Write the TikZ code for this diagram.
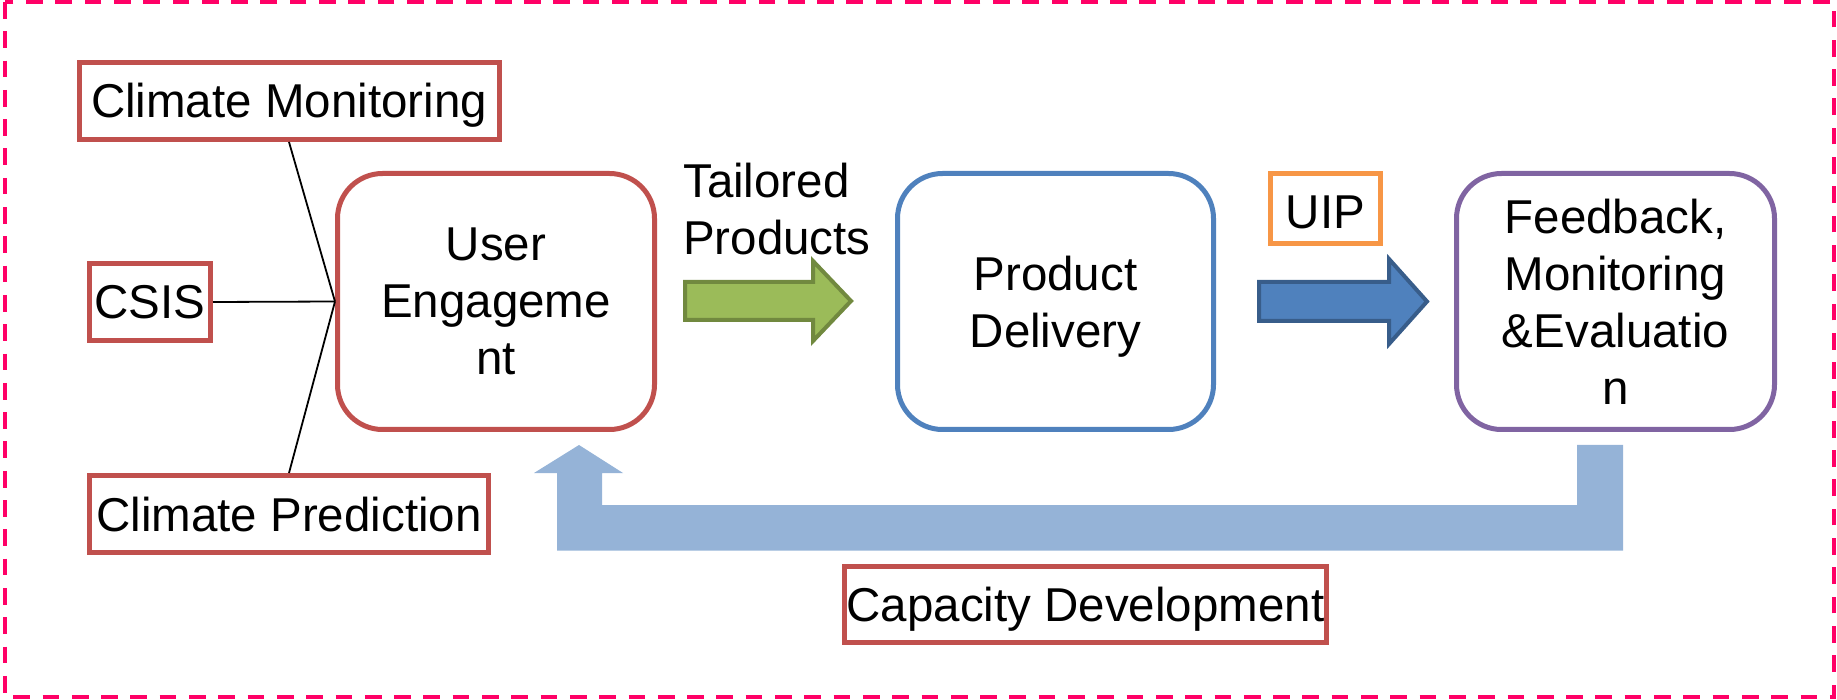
\documentclass[tikz,border=0pt]{standalone}
\usepackage{fontspec}
\setmainfont{Liberation Sans}
\definecolor{cred}{HTML}{C0504D}
\definecolor{cblue}{HTML}{4F81BD}
\definecolor{cpurple}{HTML}{8064A2}
\definecolor{corange}{HTML}{F79646}
\definecolor{cgreen}{HTML}{9BBB59}
\definecolor{cgreenD}{HTML}{71893F}
\definecolor{cblueD}{HTML}{385D8A}
\definecolor{clight}{HTML}{95B3D7}
\definecolor{cpink}{HTML}{FF0066}
\newcommand{\bigfont}{\fontsize{47.5}{57}\selectfont}
\begin{document}
\begin{tikzpicture}[x=1pt,y=-1pt,
  lbl/.style={draw=cred, line width=5pt, fill=white, inner sep=0pt,
    font=\bigfont, text height=34pt, text depth=0pt},
  stage/.style={rounded corners=45pt, line width=5pt, fill=white,
    align=center, inner sep=0pt, font=\bigfont,
    minimum height=256pt},
  link/.style={black, line width=1.8pt},
  blockarrow/.style={line width=4pt, miter limit=10}
]
\useasboundingbox (0,0) rectangle (1837,700);
\draw[cpink, line width=4.3pt, dash pattern=on 16.7pt off 12.6pt] (5,2) rectangle (1834,697);

% feedback loop arrow
\fill[clight] (557,550.5) -- (557,473) -- (534,473) -- (579,445) -- (623,473)
  -- (602,473) -- (602,505) -- (1577,505) -- (1577,445) -- (1623,445)
  -- (1623,550.5) -- cycle;

% input labels
\node[lbl, minimum width=420pt, minimum height=77pt] (cm) at (289,101) {Climate Monitoring};
\node[lbl, minimum width=121pt, minimum height=77pt] (csis) at (150,302) {CSIS};
\node[lbl, minimum width=399pt, minimum height=77pt] (cp) at (289,514) {Climate Prediction};

% stages
\node[stage, draw=cred, minimum width=317pt] (ue) at (496,301.5) {User\\Engageme\\nt};
\node[stage, draw=cblue, minimum width=316pt] (pd) at (1055.5,301.5) {\rule{0pt}{44.6pt}Product\\Delivery};
\node[stage, draw=cpurple, minimum width=318pt] (fb) at (1615.5,301.5) {Feedback,\\Monitoring\\\&Evaluatio\\n};

% connectors
\draw[link] (cm.south) -- (ue.west);
\draw[link] (csis.east) -- (ue.west);
\draw[link] (cp.north) -- (ue.west);

% tailored products
\node[anchor=north west, inner sep=0pt, align=left, font=\bigfont] (tp) at (683,162.4) {Tailored\\Products};
\draw[blockarrow, draw=cgreenD, fill=cgreen] (685,282) -- (813,282) -- (813,261) -- (851,301)
  -- (813,341) -- (813,320) -- (685,320) -- cycle;

% UIP
\node[draw=corange, line width=5pt, inner sep=0pt, font=\bigfont, text height=40pt, text depth=0pt,
  minimum width=110pt, minimum height=70pt] (uip) at (1325.5,208.5) {UIP};
\draw[blockarrow, draw=cblueD, fill=cblue] (1259,282) -- (1389,282) -- (1389,259) -- (1427,301.5)
  -- (1389,344) -- (1389,321) -- (1259,321) -- cycle;

% capacity development
\node[lbl, minimum width=482pt, minimum height=76pt] (capdev) at (1085.5,604.5) {Capacity Development};
\end{tikzpicture}
\end{document}
